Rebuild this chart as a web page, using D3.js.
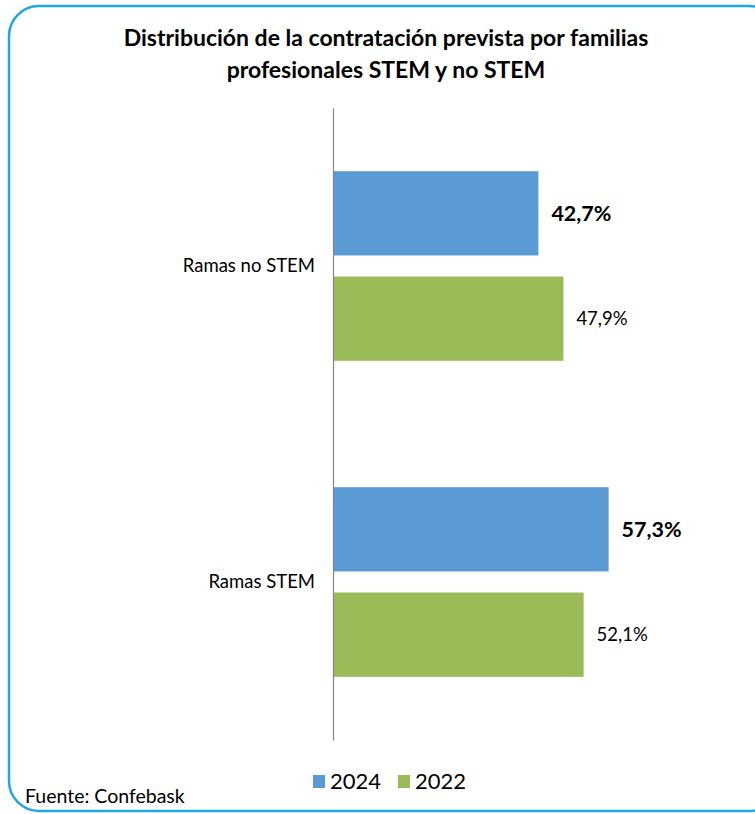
<!DOCTYPE html>
<html>
<head>
<meta charset="utf-8">
<script src="https://cdn.jsdelivr.net/npm/d3@7"></script>
<style>
  body { margin: 0; background: #fff; }
  svg text { font-family: Lato, "Open Sans", sans-serif; fill: #000; }
</style>
</head>
<body>
<div id="chart"></div>
<script>
"use strict";

var categories = ["Ramas no STEM", "Ramas STEM"];
var years = ["2024", "2022"];
var values2024 = [42.7, 57.3];
var values2022 = [47.9, 52.1];
var colors = ["#5B9BD5", "#9BBB59"];

var width = 755, height = 814;

var svg = d3.select("#chart")
            .append("svg")
            .attr("width", width)
            .attr("height", height);

// frame
svg.append("rect")
   .attr("x", 9).attr("y", 6)
   .attr("width", 770).attr("height", 805)
   .attr("rx", 30).attr("ry", 30)
   .attr("fill", "none")
   .attr("stroke", "#1CA9E6")
   .attr("stroke-width", 2.5);

// title
var title = svg.append("text")
   .attr("text-anchor", "middle")
   .attr("font-weight", "bold")
   .attr("font-size", 23);
title.append("tspan").attr("x", 386).attr("y", 46)
     .text("Distribución de la contratación prevista por familias");
title.append("tspan").attr("x", 386).attr("y", 78)
     .text("profesionales STEM y no STEM");

var plot = {left: 333, top: 108, bottom: 740};

var y = d3.scaleBand()
          .domain(categories)
          .range([plot.top, plot.bottom]);

var ySub = d3.scaleBand()
             .domain(years)
             .range([0, y.bandwidth()])
             .paddingInner(0.2)
             .paddingOuter(0.6);

var x = d3.scaleLinear()
          .domain([0, 100])
          .range([plot.left, plot.left + 481]);

var rows = [];
categories.forEach(function(c, i){
  rows.push({cat: c, year: "2024", value: values2024[i]});
  rows.push({cat: c, year: "2022", value: values2022[i]});
});

svg.selectAll("rect.bar")
   .data(rows)
   .enter()
   .append("rect")
   .attr("class", "bar")
   .attr("x", x(0))
   .attr("y", function(d){ return y(d.cat) + ySub(d.year); })
   .attr("width", function(d){ return x(d.value) - x(0); })
   .attr("height", ySub.bandwidth())
   .attr("fill", function(d){ return d.year == "2024" ? colors[0] : colors[1]; });

var fmt = function(v){ return d3.format(".1f")(v).replace(".", ",") + "%"; };

svg.selectAll("text.value")
   .data(rows)
   .enter()
   .append("text")
   .attr("class", "value")
   .attr("x", function(d){ return x(d.value) + 13; })
   .attr("y", function(d){ return y(d.cat) + ySub(d.year) + ySub.bandwidth() / 2; })
   .attr("dy", "0.35em")
   .attr("font-size", function(d){ return d.year == "2024" ? 21.5 : 18.5; })
   .attr("font-weight", function(d){ return d.year == "2024" ? "bold" : "normal"; })
   .text(function(d){ return fmt(d.value); });

// axis (no ticks)
var axis = d3.axisLeft(y).tickSize(0).tickPadding(18);
var gY = svg.append("g")
            .attr("transform", "translate(" + plot.left + ",0)")
            .call(axis);
gY.select(".domain").attr("stroke", "#868686").attr("stroke-width", 1.2);
gY.selectAll("text")
  .attr("font-size", 18.5)
  .attr("font-family", "Lato, sans-serif")
  .attr("fill", "#000");

// legend
var legend = svg.append("g");
var legendX = [313, 398];
years.forEach(function(yr, i){
  legend.append("rect")
        .attr("x", legendX[i]).attr("y", 775)
        .attr("width", 12).attr("height", 13)
        .attr("fill", colors[i]);
  legend.append("text")
        .attr("x", legendX[i] + 17).attr("y", 789)
        .attr("font-size", 22)
        .text(yr);
});

svg.append("text")
   .attr("x", 25).attr("y", 803)
   .attr("font-size", 19.5)
   .text("Fuente: Confebask");
</script>
</body>
</html>
